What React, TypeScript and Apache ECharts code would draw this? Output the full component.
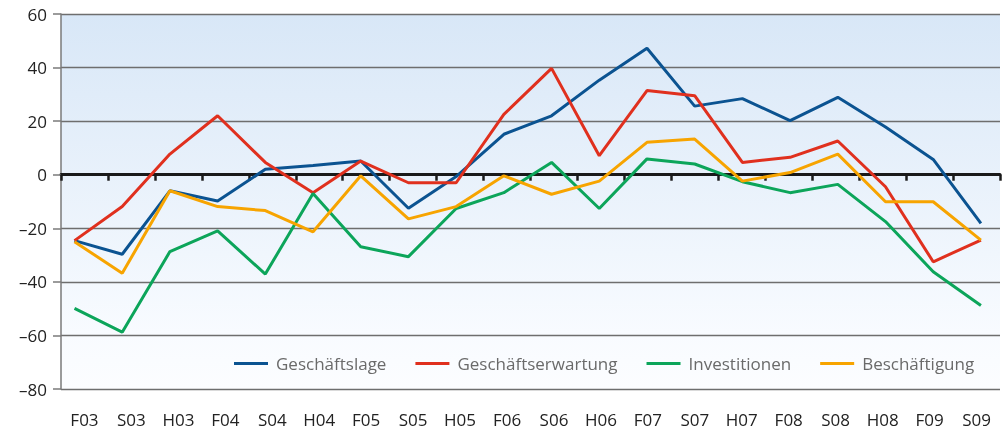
import React, { useEffect, useRef } from "react";
import * as echarts from "echarts";

const categories = ["F03","S03","H03","F04","S04","H04","F05","S05","H05","F06","S06","H06","F07","S07","H07","F08","S08","H08","F09","S09"];
const geschaeftslage = [-24.6,-29.7,-6.0,-9.8,2.0,3.4,5.1,-12.5,-0.7,15.1,22.0,35.3,47.2,25.6,28.4,20.2,28.9,17.8,5.7,-18.2];
const geschaeftserwartung = [-24.6,-11.9,7.7,22.0,4.6,-6.7,5.1,-3.0,-3.0,22.5,39.7,7.1,31.4,29.5,4.6,6.5,12.6,-4.5,-32.5,-24.4];
const investitionen = [-49.9,-58.8,-28.7,-21.0,-37.1,-7.0,-26.9,-30.6,-12.6,-6.7,4.6,-12.6,5.9,4.0,-2.6,-6.7,-3.6,-17.5,-36.2,-48.8];
const beschaeftigung = [-25.0,-36.8,-6.0,-11.9,-13.4,-21.3,-0.4,-16.5,-11.9,-0.4,-7.3,-2.4,12.1,13.3,-2.4,0.8,7.7,-10.1,-10.1,-24.4];
const seriesNames = ["Geschäftslage","Geschäftserwartung","Investitionen","Beschäftigung"];
const seriesColors = ["#0b5391","#e0301e","#0ca55a","#f7a400"];
const yTicks = [-80,-60,-40,-20,0,20,40,60];

export default function App() {
  const ref = useRef<HTMLDivElement>(null);
  useEffect(() => {
    if (!ref.current) return;
    const chart = echarts.init(ref.current, null, { renderer: "svg" });
    const all = [geschaeftslage, geschaeftserwartung, investitionen, beschaeftigung];
    const font = "'Open Sans', 'Noto Sans', sans-serif";
    chart.setOption({
      animation: false,
      textStyle: { fontFamily: font },
      grid: {
        left: 61, right: 6, top: 14, bottom: 44, show: true, borderWidth: 0,
        backgroundColor: new echarts.graphic.LinearGradient(0, 0, 0, 1, [
          { offset: 0, color: "#d8e7f7" },
          { offset: 0.85, color: "#f8fbff" },
          { offset: 1, color: "#fcfdff" },
        ]),
      },
      legend: {
        left: 229, top: 350, icon: "rect", itemWidth: 34, itemHeight: 3, itemGap: 29,
        data: seriesNames,
        textStyle: { color: "#6a6a6a", fontSize: 17, fontFamily: font, padding: [0, 0, 0, 3] },
      },
      xAxis: [
        {
          type: "category", data: categories, position: "bottom", boundaryGap: true,
          axisLine: { show: false, onZero: false }, axisTick: { show: false },
          axisLabel: { color: "#222", fontSize: 17, margin: 22 },
          splitLine: { show: false },
        },
        {
          type: "category", data: categories, position: "bottom", boundaryGap: true,
          axisLine: { show: true, onZero: true, lineStyle: { color: "#1a1a1a", width: 3 } },
          axisTick: { show: true, length: 6, lineStyle: { color: "#1a1a1a", width: 2.5 } },
          axisLabel: { show: false }, splitLine: { show: false },
        },
        {
          type: "value", min: -0.283, max: 19.4, show: false,
          axisLine: { onZero: false }, splitLine: { show: false },
        },
      ],
      yAxis: {
        type: "value", min: yTicks[0], max: yTicks[yTicks.length - 1], interval: 20,
        axisLine: { show: true, onZero: false, lineStyle: { color: "#7a7a7a", width: 1.5 } },
        axisTick: { show: true, length: 8, lineStyle: { color: "#7a7a7a", width: 1.5 } },
        axisLabel: {
          color: "#222", fontSize: 17, margin: 14,
          formatter: (v: number) => String(v).replace("-", "\u2013"),
        },
        splitLine: { show: true, lineStyle: { color: "#6e6e6e", width: 1.3 } },
      },
      series: all.map((vals, k) => ({
        name: seriesNames[k], type: "line", xAxisIndex: 2, yAxisIndex: 0,
        data: vals.map((v, i) => [i, v]),
        symbol: "none", color: seriesColors[k],
        lineStyle: { width: 3, color: seriesColors[k] },
      })),
    });
    return () => chart.dispose();
  }, []);
  return <div ref={ref} style={{ position: "fixed", left: 0, top: 0, width: 1006, height: 433 }} />;
}
